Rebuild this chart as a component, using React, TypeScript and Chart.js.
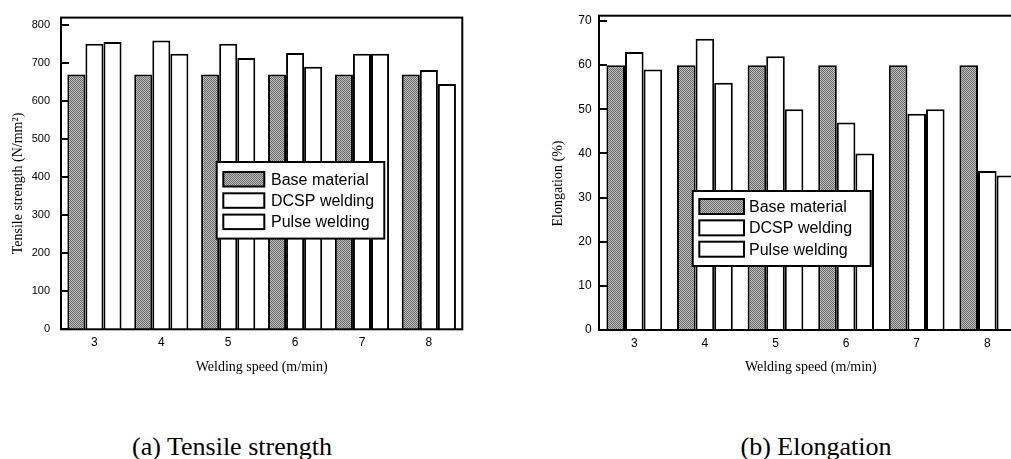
import React, { useEffect, useRef } from 'react';
import { Chart, registerables } from 'chart.js';

Chart.register(...registerables);

// ---- data ----
const categories = ['3', '4', '5', '6', '7', '8'];
const seriesNames = ['Base material', 'DCSP welding', 'Pulse welding'];

const tensileBase = [670, 670, 670, 670, 670, 670];
const tensileDCSP = [751, 760, 751, 727, 725, 682];
const tensilePulse = [756, 725, 714, 691, 725, 645];
const tensileTicks = [0, 100, 200, 300, 400, 500, 600, 700, 800];

const elongBase = [60, 60, 60, 60, 60, 60];
const elongDCSP = [63, 66, 62, 47, 49, 36];
const elongPulse = [59, 56, 50, 40, 50, 35];
const elongTicks = [0, 10, 20, 30, 40, 50, 60, 70];

const xTitle = 'Welding speed (m/min)';
const yTitleA = 'Tensile strength (N/mm²)';
const yTitleB = 'Elongation (%)';
const captionA = '(a) Tensile strength';
const captionB = '(b) Elongation';

function makePattern(): CanvasPattern | string {
  const c = document.createElement('canvas');
  c.width = 2;
  c.height = 2;
  const x = c.getContext('2d');
  if (!x) return '#8c8c8c';
  x.fillStyle = '#bdbdbd';
  x.fillRect(0, 0, 2, 2);
  x.fillStyle = '#6a6a6a';
  x.fillRect(0, 0, 1, 1);
  x.fillRect(1, 1, 1, 1);
  return x.createPattern(c, 'repeat') || '#8c8c8c';
}

const framePlugin = {
  id: 'frame',
  afterDatasetsDraw(chart: any, _args: any, opts: any) {
    const { ctx, chartArea: a } = chart;
    const yScale = chart.scales.y;
    ctx.save();
    ctx.strokeStyle = '#000';
    ctx.lineWidth = 2;
    // inside tick marks
    for (const t of yScale.ticks) {
      const py = Math.round(yScale.getPixelForValue(t.value));
      ctx.beginPath();
      ctx.moveTo(a.left, py);
      ctx.lineTo(a.left + opts.tickLen, py);
      ctx.stroke();
    }
    // frame
    ctx.strokeRect(a.left, a.top, a.right - a.left, a.bottom - a.top);

    // legend box
    const L = opts.legend;
    const bx = a.left + L.x;
    const by = a.top + L.y;
    ctx.fillStyle = '#fff';
    ctx.fillRect(bx, by, L.w, L.h);
    ctx.strokeRect(bx, by, L.w, L.h);
    ctx.font = '16px "Liberation Sans", Arial, sans-serif';
    ctx.textBaseline = 'middle';
    ctx.textAlign = 'left';
    chart.data.datasets.forEach((ds: any, i: number) => {
      const sy = by + L.firstRow + i * L.rowH;
      ctx.fillStyle = ds.backgroundColor;
      ctx.fillRect(bx + L.swX, sy, L.swW, L.swH);
      ctx.strokeStyle = '#000';
      ctx.lineWidth = 2;
      ctx.strokeRect(bx + L.swX, sy, L.swW, L.swH);
      ctx.fillStyle = '#000';
      ctx.fillText(ds.label, bx + L.textX, sy + L.swH / 2 + 1);
    });

    // rotated y title
    const T = opts.yTitle;
    ctx.translate(T.x, T.y);
    ctx.rotate(-Math.PI / 2);
    ctx.textAlign = 'center';
    ctx.textBaseline = 'middle';
    ctx.fillStyle = '#000';
    ctx.font = '14px "Liberation Serif", "Times New Roman", serif';
    ctx.fillText(T.text, 0, 0);
    ctx.restore();
  },
};

function buildConfig(
  pattern: CanvasPattern | string,
  base: number[],
  dcsp: number[],
  pulse: number[],
  ticks: number[],
  yMax: number,
  yTitle: string,
  geo: any
): any {
  const ds = (label: string, data: number[], bg: any) => ({
    label,
    data,
    backgroundColor: bg,
    borderColor: '#000',
    borderWidth: 2,
    categoryPercentage: geo.catPct,
    barPercentage: 1.0,
  });
  return {
    type: 'bar',
    data: {
      labels: categories,
      datasets: [
        ds(seriesNames[0], base, pattern),
        ds(seriesNames[1], dcsp, '#fff'),
        ds(seriesNames[2], pulse, '#fff'),
      ],
    },
    plugins: [framePlugin],
    options: {
      responsive: false,
      animation: false,
      devicePixelRatio: 1,
      layout: { padding: { left: 0, top: geo.padTop, right: geo.padRight, bottom: 0 } },
      plugins: {
        legend: { display: false },
        tooltip: { enabled: false },
        frame: {
          tickLen: 8,
          legend: geo.legend,
          yTitle: { text: yTitle, x: geo.yTitleX, y: geo.yTitleY },
        },
      },
      scales: {
        x: {
          type: 'category',
          grid: { display: false, drawTicks: false },
          border: { display: false },
          ticks: {
            color: '#000',
            maxRotation: 0,
            autoSkip: false,
            padding: 6,
            font: { family: '"Liberation Sans", Arial, sans-serif', size: 12 },
          },
          title: {
            display: true,
            text: xTitle,
            color: '#000',
            font: { family: '"Liberation Serif", "Times New Roman", serif', size: 14 },
            padding: { top: 0, bottom: 4 },
          },
          afterFit: (s: any) => {
            s.height = geo.xHeight;
          },
        },
        y: {
          type: 'linear',
          min: 0,
          max: yMax,
          grid: { display: false, drawTicks: false },
          border: { display: false },
          ticks: {
            color: '#000',
            padding: geo.yTickPad,
            font: { family: '"Liberation Sans", Arial, sans-serif', size: geo.yTickSize },
          },
          afterBuildTicks: (s: any) => {
            s.ticks = ticks.map((v) => ({ value: v }));
          },
          afterFit: (s: any) => {
            s.width = geo.yWidth;
          },
        },
      },
    },
  };
}

export default function App() {
  const refA = useRef<HTMLCanvasElement>(null);
  const refB = useRef<HTMLCanvasElement>(null);

  useEffect(() => {
    const pattern = makePattern();
    const chartA = new Chart(
      refA.current as HTMLCanvasElement,
      buildConfig(pattern, tensileBase, tensileDCSP, tensilePulse, tensileTicks, 820, yTitleA, {
        catPct: 0.81,
        padTop: 12.3,
        padRight: 17.7,
        xHeight: 50.7,
        yWidth: 61,
        yTickPad: 11,
        yTickSize: 11,
        yTitleX: 18,
        yTitleY: 183.5,
        legend: { x: 155.7, y: 144.4, w: 167.6, h: 76.6, swX: 6.6, swW: 41, swH: 14.5, firstRow: 10, rowH: 21.3, textX: 54.3 },
      })
    );
    const chartB = new Chart(
      refB.current as HTMLCanvasElement,
      buildConfig(pattern, elongBase, elongDCSP, elongPulse, elongTicks, 71.2, yTitleB, {
        catPct: 0.79,
        padTop: 15.7,
        padRight: 17.4,
        xHeight: 50,
        yWidth: 59,
        yTickPad: 7.3,
        yTickSize: 12,
        yTitleX: 18,
        yTitleY: 183.5,
        legend: { x: 93.7, y: 175.3, w: 178, h: 75, swX: 6.6, swW: 44.7, swH: 15, firstRow: 8, rowH: 21.35, textX: 56.3 },
      })
    );
    return () => {
      chartA.destroy();
      chartB.destroy();
    };
  }, []);

  const captionStyle: React.CSSProperties = {
    position: 'absolute',
    top: 432,
    textAlign: 'center',
    fontFamily: '"Liberation Serif", "Times New Roman", serif',
    fontSize: 26,
    lineHeight: '30px',
    color: '#000',
    whiteSpace: 'nowrap',
  };

  return (
    <div
      style={{
        position: 'absolute',
        left: 0,
        top: 0,
        width: 1011,
        height: 459,
        overflow: 'hidden',
        background: '#fff',
      }}
    >
      <canvas
        ref={refA}
        width={480}
        height={380}
        style={{ position: 'absolute', left: 0, top: 0, width: 480, height: 380 }}
      />
      <canvas
        ref={refB}
        width={500}
        height={380}
        style={{ position: 'absolute', left: 540, top: 0, width: 500, height: 380 }}
      />
      <div style={{ ...captionStyle, left: 32, width: 400 }}>{captionA}</div>
      <div style={{ ...captionStyle, left: 616, width: 400 }}>{captionB}</div>
    </div>
  );
}
